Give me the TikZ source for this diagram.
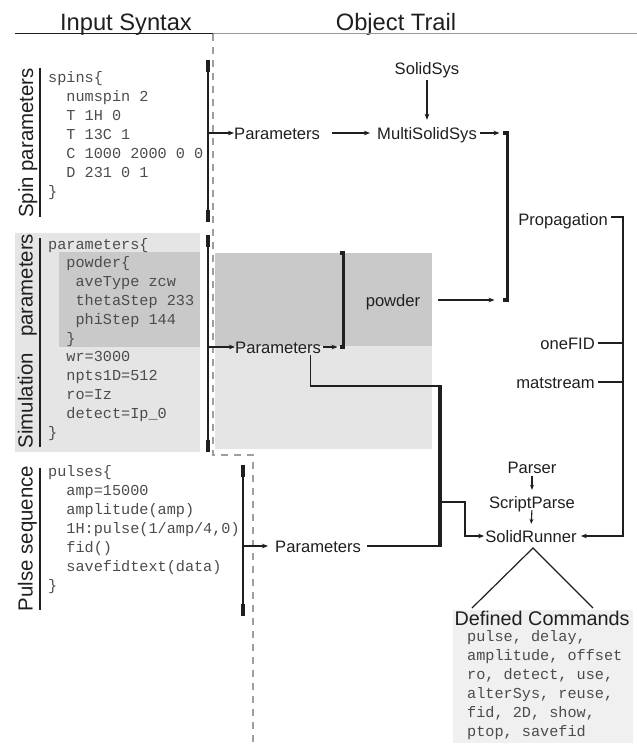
\documentclass[tikz,border=0pt]{standalone}
\usepackage{fontspec}
\setmainfont{Liberation Sans}
\newfontfamily\codefont{Liberation Mono}
\usetikzlibrary{arrows.meta}
\definecolor{lightbg}{gray}{0.90}
\definecolor{darkbg}{gray}{0.79}
\definecolor{dcbg}{gray}{0.94}
\definecolor{ink}{gray}{0.12}
\definecolor{codeink}{gray}{0.30}
\definecolor{dashgray}{gray}{0.62}
\definecolor{rulegray}{gray}{0.60}
\begin{document}
\begin{tikzpicture}[x=1pt, y=-1pt,
  lbl/.style={font=\fontsize{16.6}{19}\selectfont, text=ink, inner sep=0pt, text height=12pt, text depth=0pt},
  hdr/.style={font=\fontsize{23.7}{28}\selectfont, text=ink, inner sep=0pt, anchor=base},
  side/.style={font=\fontsize{20.4}{24}\selectfont, text=ink, inner sep=0pt, rotate=90, anchor=base},
  code/.style={font=\codefont\fontsize{15.2}{19}\selectfont, text=codeink, inner sep=0pt, anchor=north west, align=left},
  arr/.style={draw=ink, line width=1.1pt, -{Stealth[length=6pt,width=4.6pt]}},
  sarr/.style={draw=ink, line width=1.1pt, -{Stealth[length=5pt,width=4pt]}},
  conn/.style={draw=ink, line width=1.1pt},
  heavy/.style={draw=ink, line width=3.6pt},
  brk/.style={draw=ink, line width=1.5pt},
  brkend/.style={fill=ink},
  sidebar/.style={draw=ink, line width=1.3pt},
  divider/.style={draw=dashgray, line width=1.2pt, dash pattern=on 7pt off 6pt},
]
\useasboundingbox (0,0) rectangle (637,748);

% backgrounds
\fill[lightbg] (15,233) rectangle (200,452);
\fill[darkbg] (59,252) rectangle (200,347);
\fill[lightbg] (215,253) rectangle (432,449);
\fill[darkbg] (215,253) rectangle (432,346);
\fill[dcbg] (453,610) rectangle (633,743);

% headers
\node[hdr] (hin) at (126,30) {Input Syntax};
\node[hdr] (hot) at (396,30) {Object Trail};
\coordinate (hl0) at (15,33.5);
\coordinate (hl1) at (213,33.5);
\coordinate (hl2) at (637,33.5);
\draw[draw=ink, line width=1.3pt] (hl0) -- (hl1);
\draw[draw=rulegray, line width=1pt] (hl1) -- (hl2);

% dashed divider
\coordinate (d0) at (213,34);
\coordinate (d1) at (213,455);
\coordinate (d2) at (253,455);
\coordinate (d3) at (253,748);
\draw[divider] (d0) -- (d1) -- (d2) -- (d3);

% side labels
\node[side] (lspin) at (33,143) {Spin parameters};
\node[side] (lsim) at (32.5,341) {Simulation\hspace{16pt}parameters};
\node[side] (lpul) at (32.5,538.5) {Pulse sequence};
\draw[sidebar] (40,68) -- (40,217);
\draw[sidebar] (40,238) -- (40,447);
\draw[sidebar] (40,468) -- (40,610);

% code blocks
\node[code] (cspin) at (48,68.8) {\strut spins\{\\\phantom{xx}numspin 2\\\phantom{xx}T 1H 0\\\phantom{xx}T 13C 1\\\phantom{xx}C 1000 2000 0 0\\\phantom{xx}D 231 0 1\\\}};
\node[code, font=\codefont\fontsize{15.2}{18.8}\selectfont] (csim) at (48,235.8) {\strut parameters\{\\\phantom{xx}powder\{\\\phantom{xxx}aveType zcw\\\phantom{xxx}thetaStep 233\\\phantom{xxx}phiStep 144\\\phantom{xx}\}\\\phantom{xx}wr=3000\\\phantom{xx}npts1D=512\\\phantom{xx}ro=Iz\\\phantom{xx}detect=Ip\_0\\\}};
\node[code] (cpul) at (48,462.8) {\strut pulses\{\\\phantom{xx}amp=15000\\\phantom{xx}amplitude(amp)\\\phantom{xx}1H:pulse(1/amp/4,0)\\\phantom{xx}fid()\\\phantom{xx}savefidtext(data)\\\}};

% left brackets
\draw[brk] (208,60) -- (208,222);
\fill[brkend] (206,60) rectangle (210,72);
\fill[brkend] (206,210) rectangle (210,222);
\coordinate (b1) at (208,133);
\draw[brk] (208,235) -- (208,452);
\fill[brkend] (206,235) rectangle (210,247);
\fill[brkend] (206,440) rectangle (210,452);
\coordinate (b2) at (208,347);
\draw[brk] (243,465) -- (243,616);
\fill[brkend] (241,465) rectangle (245,477);
\fill[brkend] (241,604) rectangle (245,616);
\coordinate (b3) at (243,546);

% object trail labels
\node[lbl, anchor=west] (par1) at (234,133) {Parameters};
\node[lbl, anchor=west] (mss) at (377,133) {MultiSolidSys};
\node[lbl] (ss) at (427,68) {SolidSys};
\node[lbl] (pow) at (393,300) {powder};
\node[lbl, anchor=east] (prop) at (608,219) {Propagation};
\node[lbl, anchor=east] (one) at (595,343) {oneFID};
\node[lbl, anchor=east] (mat) at (595,382) {matstream};
\node[lbl, anchor=west] (par2) at (235,347) {Parameters};
\node[lbl, anchor=west] (par3) at (275,546) {Parameters};
\node[lbl] (parser) at (532,467) {Parser};
\node[lbl] (sp) at (532,502) {ScriptParse};
\node[lbl] (srun) at (531,536) {SolidRunner};

% spin path
\draw[arr] (b1) -- (par1.west);
\draw[arr, shorten <=12pt, shorten >=7pt] (par1.east) -- (mss.west);
\draw[arr, shorten <=6pt, shorten >=7pt] (ss.south) -- (ss.south |- mss.north);
\coordinate (b4t) at (507.5,133);
\coordinate (b4b) at (507.5,300);
\draw[arr, shorten <=3pt, shorten >=8pt] (mss.east) -- (b4t);
\draw[heavy] ([xshift=-4.5pt]b4t) -- (b4t) -- (b4b) -- ([xshift=-4.5pt]b4b);
\draw[arr, shorten <=18pt, shorten >=13pt] (pow.east) -- (b4b);

% propagation column
\coordinate (rt) at (623,217);
\coordinate (rb) at (623,536);
\draw[arr, shorten >=4pt] ([xshift=3pt,yshift=2pt]prop.east) -- (rt) -- (rb) -- (srun.east);
\draw[conn, shorten <=3pt] (one.east) -- (one.east -| rt);
\draw[conn, shorten <=3pt] (mat.east) -- (mat.east -| rt);

% simulation path
\draw[arr] (b2) -- (par2.west);
\coordinate (b5t) at (343.5,253);
\coordinate (b5b) at (343.5,347);
\draw[arr, shorten <=2pt, shorten >=6pt] (par2.east) -- (b5b);
\draw[heavy] ([xshift=-3.5pt]b5t) -- (b5t) -- (b5b) -- ([xshift=-3.5pt]b5b);
\coordinate (bt) at (440,386);
\coordinate (bb) at (440,546);
\coordinate (bm) at (440,502);
\coordinate (bj) at (465,502);
\draw[conn] ([xshift=-11pt,yshift=-8pt]par2.east) |- (bt);
\draw[heavy] ([yshift=0.6pt]bt) -- ([yshift=-0.6pt]bb);

% pulse path
\draw[arr, shorten >=7pt] (b3) -- (par3.west);
\draw[conn, shorten <=6pt] (par3.east) -- (bb);
\draw[arr, shorten >=1pt] (bm) -- (bj) |- (srun.west);

% parser chain
\draw[sarr, shorten <=3pt, shorten >=6pt] (parser.south) -- (sp.north);
\draw[sarr, shorten <=2pt, shorten >=6pt] (sp.south) -- (srun.north);

% defined commands
\coordinate (apex) at ([xshift=2pt,yshift=-12pt]srun.center);
\coordinate (tl) at (472,608);
\coordinate (tr) at (593,608);
\draw[conn, line width=1.2pt] (tl) -- (apex) -- (tr);
\node[font=\fontsize{19.8}{24}\selectfont, text=ink, inner sep=0pt, anchor=base] (dct) at (542,625) {Defined Commands};
\node[code] (cdc) at (467,627.8) {\strut pulse, delay,\\amplitude, offset\\ro, detect, use,\\alterSys, reuse,\\fid, 2D, show,\\ptop, savefid};
\end{tikzpicture}
\end{document}
